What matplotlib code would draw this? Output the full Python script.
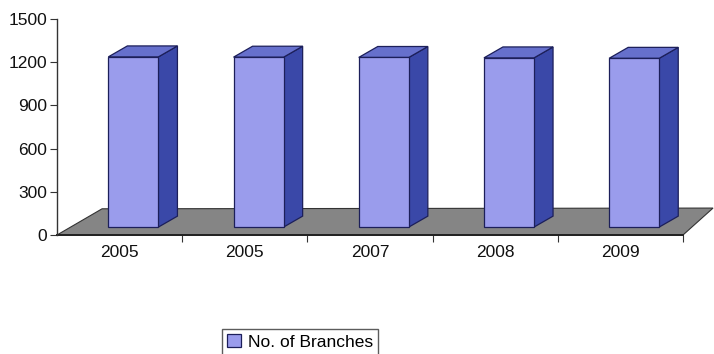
import matplotlib.pyplot as plt
from matplotlib.patches import Polygon, Patch

plt.rcParams['font.family'] = ['Liberation Sans', 'DejaVu Sans']

# branch counts per year
years = ['2005', '2005', '2007', '2008', '2009']
branches = [1182, 1180, 1178, 1175, 1172]
y_ticks = [0, 300, 600, 900, 1200, 1500]

FRONT = '#9a9cec'
SIDE = '#3a48a8'
TOP = '#6670cc'
EDGE = '#1c1f5a'
FLOOR = '#858585'

fig = plt.figure(figsize=(7.14, 3.54), dpi=100)
ax = fig.add_axes([57 / 714, 119 / 354, 626 / 714, 216 / 354])
ax.set_xlim(0, len(years))
ax.set_ylim(0, 1500)

# floor of the 3d box
n = len(years)
floor = Polygon([(0, 0), (n, 0), (n + 0.24, 187), (0.36, 182)],
                closed=True, facecolor=FLOOR, edgecolor='#333333', lw=0.8,
                clip_on=False, zorder=1)
ax.add_patch(floor)
ax.plot([0, n], [0, 0], color='#222222', lw=1.4, clip_on=False, zorder=2)

# bars: front face, side and top
w = 0.4
ddx, ddy = 0.152, 76
base = 55
for i, v in enumerate(branches):
    x0 = i + 0.41
    x1 = x0 + w
    top = base + v
    side = Polygon([(x1, base), (x1 + ddx, base + ddy), (x1 + ddx, top + ddy), (x1, top)],
                   facecolor=SIDE, edgecolor=EDGE, lw=0.9, clip_on=False, zorder=3)
    lid = Polygon([(x0, top), (x1, top), (x1 + ddx, top + ddy), (x0 + ddx, top + ddy)],
                  facecolor=TOP, edgecolor=EDGE, lw=0.9, clip_on=False, zorder=3)
    front = Polygon([(x0, base), (x1, base), (x1, top), (x0, top)],
                    facecolor=FRONT, edgecolor=EDGE, lw=0.9, clip_on=False, zorder=4)
    ax.add_patch(side)
    ax.add_patch(lid)
    ax.add_patch(front)

for s in ['top', 'right', 'bottom']:
    ax.spines[s].set_visible(False)
ax.spines['left'].set_color('#333333')
ax.spines['left'].set_linewidth(1.0)

ax.set_yticks(y_ticks)
ax.set_yticklabels([str(t) for t in y_ticks], fontsize=12.5, color='#111111')
ax.tick_params(axis='y', direction='out', length=5, color='#333333', pad=2)

ax.set_xticks(range(1, n + 1))
ax.set_xticklabels([])
ax.set_xticks([i + 0.5 for i in range(n)], minor=True)
ax.set_xticklabels(years, minor=True, fontsize=12.5, color='#111111')
ax.tick_params(axis='x', which='major', direction='out', length=5, color='#333333')
ax.tick_params(axis='x', which='minor', length=0, pad=7)
ax.patch.set_alpha(0)

handle = Patch(facecolor=FRONT, edgecolor=EDGE, lw=0.9)
fig.legend([handle], ['No. of Branches'], loc='upper left',
           bbox_to_anchor=(222 / 714, 25 / 354), fontsize=12.5,
           frameon=True, fancybox=False, edgecolor='#333333',
           handlelength=0.8, handleheight=0.8, handletextpad=0.4,
           borderpad=0.3, borderaxespad=0)

fig.savefig('out.png', dpi=100)
